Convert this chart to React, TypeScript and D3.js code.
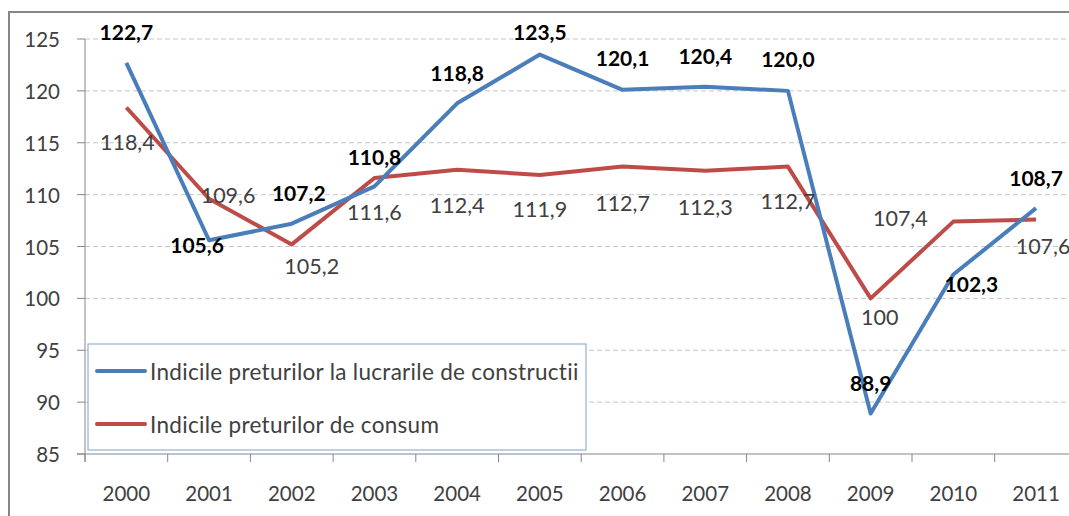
import React from "react";
import * as d3 from "d3";

const years = ["2000", "2001", "2002", "2003", "2004", "2005", "2006", "2007", "2008", "2009", "2010", "2011"];
const constructii = [122.7, 105.6, 107.2, 110.8, 118.8, 123.5, 120.1, 120.4, 120.0, 88.9, 102.3, 108.7];
const consum = [118.4, 109.6, 105.2, 111.6, 112.4, 111.9, 112.7, 112.3, 112.7, 100, 107.4, 107.6];
const constructiiText = ["122,7", "105,6", "107,2", "110,8", "118,8", "123,5", "120,1", "120,4", "120,0", "88,9", "102,3", "108,7"];
const consumText = ["118,4", "109,6", "105,2", "111,6", "112,4", "111,9", "112,7", "112,3", "112,7", "100", "107,4", "107,6"];
const yTicks = [85, 90, 95, 100, 105, 110, 115, 120, 125];
const seriesNames = ["Indicile preturilor la lucrarile de constructii", "Indicile preturilor de consum"];

// label placement relative to the point (dx, dy)
const blueOffsets = [[0, -31], [-12, 4], [7, -31], [0, -30], [0, -31], [0, -23], [0, -32], [0, -31], [0, -32], [0, -31], [18, 9], [0, -31]];
const redOffsets = [[1, 35], [19, -4], [20, 22], [0, 34], [0, 35], [0, 34], [0, 36], [0, 36], [0, 34], [9, 19], [-53, -4], [7, 26]];

const W = 1069;
const H = 516;
const left = 85;
const top = 39;
const bottom = 454;
const blue = "#4a7ebb";
const red = "#be4b48";
const font = "Lato, 'Open Sans', sans-serif";

export default function App() {
  const x = d3.scaleBand().domain(years).range([left, left + 12 * 82.7]).padding(0);
  const y = d3.scaleLinear().domain([85, 125]).range([bottom, top]);
  const cx = (i: number) => (x(years[i]) as number) + x.bandwidth() / 2;

  const line = d3
    .line<number>()
    .x((_, i) => cx(i))
    .y(d => y(d));

  return (
    <>
      <style>{`body{margin:0}`}</style>
      <svg width={W} height={H} style={{ display: "block" }} fontFamily={font}>
        <rect x={0} y={0} width={W} height={H} fill="#fff" />
        <rect x={9} y={12} width={1100} height={600} fill="#fff" stroke="#868686" strokeWidth={2} />

        {/* gridlines */}
        {yTicks.filter(t => t > 85).map(t => (
          <line key={t} x1={left} x2={W} y1={y(t)} y2={y(t)} stroke="#c6c6c6" strokeWidth={1} strokeDasharray="5,3" />
        ))}

        {/* y axis */}
        <line x1={left} x2={left} y1={top} y2={bottom + 8} stroke="#868686" strokeWidth={1} />
        {yTicks.map(t => (
          <g key={t}>
            <line x1={left - 8} x2={left} y1={y(t)} y2={y(t)} stroke="#868686" />
            <text x={60} y={y(t)} textAnchor="end" dominantBaseline="central" fontSize={20.5} fill="#404040">
              {t}
            </text>
          </g>
        ))}

        {/* x axis */}
        <line x1={left - 8} x2={W} y1={bottom} y2={bottom} stroke="#868686" />
        {years.map((yr, i) => (
          <g key={yr}>
            <line x1={x(yr) as number} x2={x(yr) as number} y1={bottom} y2={bottom + 8} stroke="#868686" />
            <text x={cx(i)} y={493} textAnchor="middle" dominantBaseline="central" fontSize={20.5} fill="#404040">
              {yr}
            </text>
          </g>
        ))}
        <line x1={left + 12 * 82.7} x2={left + 12 * 82.7} y1={bottom} y2={bottom + 8} stroke="#868686" />

        {/* series */}
        <path d={line(consum) || ""} fill="none" stroke={red} strokeWidth={4} strokeLinejoin="round" />
        <path d={line(constructii) || ""} fill="none" stroke={blue} strokeWidth={4} strokeLinejoin="round" />

        {/* data labels */}
        {consum.map((v, i) => (
          <text key={"r" + i} x={cx(i) + redOffsets[i][0]} y={y(v) + redOffsets[i][1]} textAnchor="middle" dominantBaseline="central" fontSize={21.5} fill="#404040">
            {consumText[i]}
          </text>
        ))}
        {constructii.map((v, i) => (
          <text key={"b" + i} x={cx(i) + blueOffsets[i][0]} y={y(v) + blueOffsets[i][1]} textAnchor="middle" dominantBaseline="central" fontSize={21} fontWeight="bold" fill="#000">
            {constructiiText[i]}
          </text>
        ))}

        {/* legend */}
        <rect x={88} y={344} width={498} height={106} fill="#fff" stroke="#7da1d0" strokeWidth={1} />
        {seriesNames.map((name, i) => (
          <g key={name}>
            <line x1={97} x2={145} y1={371 + i * 53} y2={371 + i * 53} stroke={i === 0 ? blue : red} strokeWidth={4} strokeLinecap="round" />
            <text x={150} y={371 + i * 53} dominantBaseline="central" fontSize={22.5} letterSpacing={0.3} fill="#404040">
              {name}
            </text>
          </g>
        ))}
      </svg>
    </>
  );
}
